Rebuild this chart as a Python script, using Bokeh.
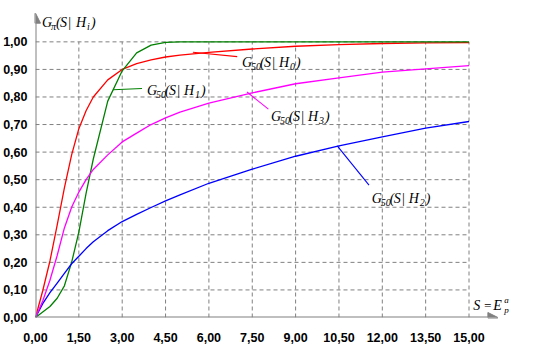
from bokeh.plotting import figure
from bokeh.models import (Range1d, FixedTicker, CustomJSTickFormatter, Label,
                          Arrow, NormalHead)
from bokeh.embed import file_html
from bokeh.resources import INLINE

# ---------------- data ----------------
S = [0, 0.25, 0.5, 0.75, 1.0, 1.25, 1.5, 1.75, 2.0, 2.5, 3.0, 3.5, 4.0, 4.5,
     5.0, 6.0, 7.5, 9.0, 10.5, 12.0, 13.5, 15.0]
G_H0 = [0, 0.097, 0.205, 0.335, 0.47, 0.59, 0.685, 0.75, 0.80, 0.862, 0.90,
        0.921, 0.935, 0.945, 0.952, 0.962, 0.974, 0.984, 0.99, 0.994, 0.996, 0.997]
G_H1 = [0, 0.02, 0.04, 0.07, 0.115, 0.20, 0.31, 0.45, 0.575, 0.785, 0.895,
        0.96, 0.988, 0.998, 1.0, 1.0, 1.0, 1.0, 1.0, 1.0, 1.0, 1.0]
G_H2 = [0, 0.05, 0.09, 0.125, 0.16, 0.195, 0.222, 0.25, 0.275, 0.315, 0.348,
        0.374, 0.399, 0.423, 0.445, 0.487, 0.538, 0.585, 0.623, 0.655, 0.687, 0.711]
G_H3 = [0, 0.06, 0.135, 0.225, 0.325, 0.40, 0.455, 0.50, 0.537, 0.59, 0.637,
        0.669, 0.70, 0.724, 0.745, 0.778, 0.815, 0.848, 0.869, 0.89, 0.902, 0.914]

X_TICKS = [0, 1.5, 3.0, 4.5, 6.0, 7.5, 9.0, 10.5, 12.0, 13.5, 15.0]
Y_TICKS = [0, 0.1, 0.2, 0.3, 0.4, 0.5, 0.6, 0.7, 0.8, 0.9, 1.0]

SERIES = [("0", G_H0, "#ff0000"), ("1", G_H1, "#008000"),
          ("2", G_H2, "#0000ff"), ("3", G_H3, "#ff00ff")]

# label anchor (x, y) and leader line (x0, y0, x1, y1) per series
LABEL_POS = {"0": (7.149, 0.926), "1": (3.857, 0.824),
             "2": (11.632, 0.431), "3": (8.147, 0.7286)}
LEADERS = {"0": (5.447, 0.962, 6.979, 0.9464), "1": (2.68, 0.826, 3.687, 0.831),
           "2": (10.441, 0.6225, 11.54, 0.48), "3": (7.319, 0.8179, 8.058, 0.756)}

# ends of the axis arrows
X_AXIS_END = 16.0
Y_AXIS_END = 1.104

AXIS_GRAY = "#808080"
SERIF = "Liberation Serif"

p = figure(width=524, height=344, output_backend="svg", toolbar_location=None,
           x_range=Range1d(0, 16.851), y_range=Range1d(0, 1.15),
           min_border_left=27, min_border_right=2, min_border_top=0,
           min_border_bottom=22)
p.outline_line_color = None
p.xgrid.visible = False
p.ygrid.visible = False
p.background_fill_color = "white"
p.border_fill_color = "white"

fmt = CustomJSTickFormatter(code="return tick.toFixed(2).replace('.', ',');")
for ax, ticks in ((p.xaxis[0], X_TICKS), (p.yaxis[0], Y_TICKS)):
    ax.ticker = FixedTicker(ticks=ticks)
    ax.formatter = fmt
    ax.axis_line_color = None
    ax.major_tick_line_color = None
    ax.minor_tick_line_color = None
    ax.major_label_text_font = "Liberation Sans"
    ax.major_label_text_font_style = "bold"
    ax.major_label_text_font_size = "12.5px"
    ax.major_label_text_color = "black"
p.xaxis[0].major_label_standoff = 9
p.yaxis[0].major_label_standoff = 2

# grid (dashed) from tick arrays
vx = [[t, t] for t in X_TICKS[1:]]
vy = [[Y_TICKS[0], Y_TICKS[-1]] for _ in X_TICKS[1:]]
hx = [[X_TICKS[0], X_TICKS[-1]] for _ in Y_TICKS[1:]]
hy = [[t, t] for t in Y_TICKS[1:]]
p.multi_line(vx + hx, vy + hy, line_color=AXIS_GRAY, line_width=1,
             line_dash="4 3")

# axis lines with arrow heads
for xs, ys, xe, ye in ((0, 0, X_AXIS_END, 0), (0, 0, 0, Y_AXIS_END)):
    p.add_layout(Arrow(end=NormalHead(size=10, fill_color=AXIS_GRAY,
                                      line_color=AXIS_GRAY),
                       x_start=xs, y_start=ys, x_end=xe, y_end=ye,
                       line_color=AXIS_GRAY, line_width=2))

# curves and leader lines
for idx, vals, col in SERIES:
    p.line(S, vals, line_color=col, line_width=1.3)
    x0, y0, x1, y1 = LEADERS[idx]
    p.line([x0, x1], [y0, y1], line_color=col, line_width=1.1)


def formula(x, y, parts):
    for text, dx, dy, size in parts:
        p.add_layout(Label(x=x, y=y, x_offset=dx, y_offset=dy, text=text,
                           text_font=SERIF, text_font_style="italic",
                           text_font_size=f"{size}px", text_baseline="alphabetic",
                           text_color="black"))


for idx, _, _ in SERIES:
    lx, ly = LABEL_POS[idx]
    formula(lx, ly, [("G", 0, 0, 14), ("50", 9, -4, 10), ("(", 18, 0, 14),
                     ("S", 22, 0, 14), ("|", 29.5, 0, 14), ("H", 37, 0, 14),
                     (idx, 48, -4, 10), (")", 54, 0, 14)])

# axis titles
formula(0.228, 1.0714, [("G", 0, 0, 14), ("π", 9, -4, 10), ("(", 14, 0, 14),
                        ("S", 18, 0, 14), ("|", 25.5, 0, 14), ("H", 34, 0, 14),
                        ("i", 45, -4, 10), (")", 49, 0, 14)])
formula(15.149, 0.0418, [("S", 0, 0, 14), ("=", 10, 0, 13), ("E", 20, 0, 14),
                         ("a", 31, 6, 9), ("p", 31, -4, 9)])

open("out.html", "w").write(file_html(p, INLINE))
